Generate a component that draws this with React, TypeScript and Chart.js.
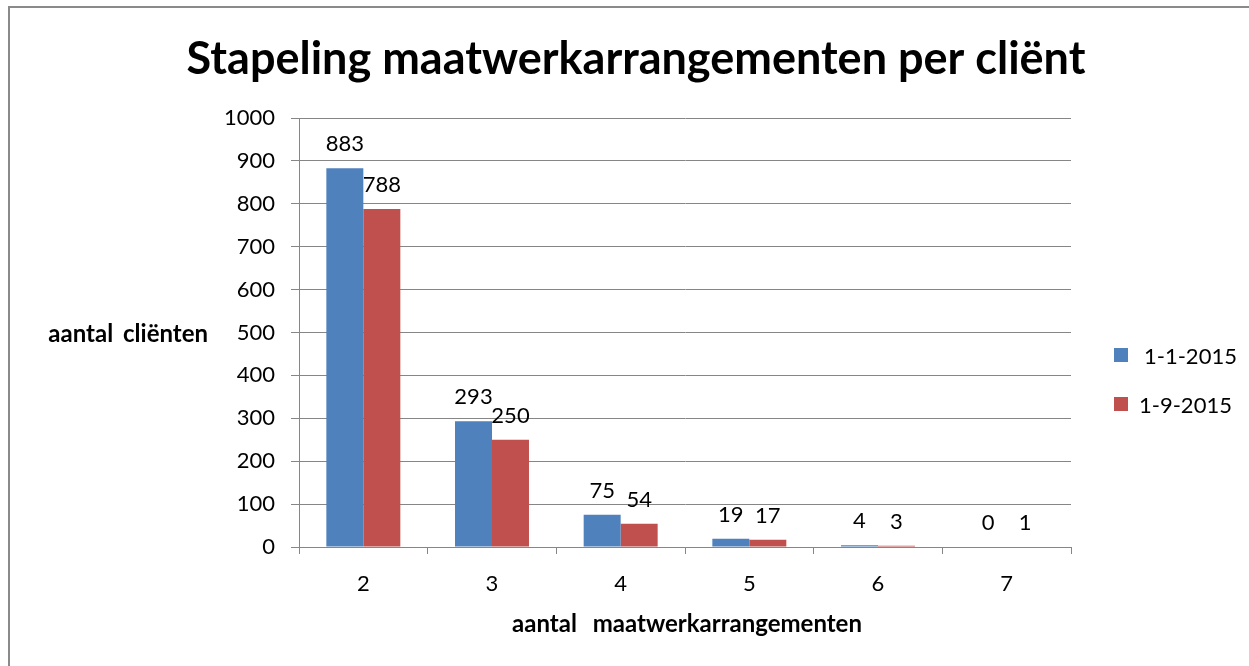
import React, { useEffect, useRef } from "react";
import { Chart, registerables } from "chart.js";

Chart.register(...registerables);

const categories = ["2", "3", "4", "5", "6", "7"];
const series1Label = "1-1-2015";
const series2Label = "1-9-2015";
const series1 = [883, 293, 75, 19, 4, 0];
const series2 = [788, 250, 54, 17, 3, 1];
const titleText = "Stapeling maatwerkarrangementen per cliënt";
const yTitle = "aantal cliënten";
const xTitle = "aantal maatwerkarrangementen";
const blue = "#4F81BD";
const red = "#C0504D";
const gridColor = "#868686";
const FONT = "Lato, 'Open Sans', sans-serif";

const overlay = {
  id: "overlay",
  afterDraw(chart: any) {
    const ctx = chart.ctx as any;
    ctx.save();
    ctx.fillStyle = "#000";
    ctx.textBaseline = "alphabetic";
    // title
    ctx.font = `bold 45px ${FONT}`;
    ctx.textAlign = "center";
    ctx.fillText(titleText, 636, 74);
    // axis titles
    ctx.font = `bold 24px ${FONT}`;
    ctx.wordSpacing = "4px";
    ctx.textAlign = "right";
    ctx.fillText(yTitle, 208, 342);
    ctx.wordSpacing = "10px";
    ctx.textAlign = "center";
    ctx.fillText(xTitle, 687, 632);
    ctx.wordSpacing = "0px";
    // data labels
    ctx.font = `22px ${FONT}`;
    chart.data.datasets.forEach((ds: any, i: number) => {
      const meta = chart.getDatasetMeta(i);
      meta.data.forEach((bar: any, j: number) => {
        ctx.fillText(String(ds.data[j]), bar.x, bar.y - 17);
      });
    });
    // legend
    const items = [
      { label: series1Label, color: blue, y: 355, dx: 5 },
      { label: series2Label, color: red, y: 404, dx: 0 },
    ];
    ctx.textAlign = "left";
    items.forEach((it) => {
      ctx.fillStyle = it.color;
      ctx.fillRect(1114, it.y - 7, 14, 14);
      ctx.fillStyle = "#000";
      ctx.fillText(it.label, 1139 + it.dx, it.y + 9);
    });
    ctx.restore();
  },
};

export default function App() {
  const ref = useRef<HTMLCanvasElement>(null);
  useEffect(() => {
    const chart = new Chart(ref.current!, {
      type: "bar",
      data: {
        labels: categories,
        datasets: [
          { label: series1Label, data: series1, backgroundColor: blue, barPercentage: 1, categoryPercentage: 0.575 },
          { label: series2Label, data: series2, backgroundColor: red, barPercentage: 1, categoryPercentage: 0.575 },
        ],
      },
      options: {
        animation: false,
        responsive: false,
        devicePixelRatio: 1,
        layout: { padding: { top: 118, right: 178, bottom: 0, left: 0 } },
        plugins: { legend: { display: false }, title: { display: false }, tooltip: { enabled: false } },
        scales: {
          x: {
            afterFit: (s: any) => { s.height = 119; },
            grid: { drawOnChartArea: false, drawTicks: true, tickLength: 7, color: gridColor, offset: true },
            border: { color: gridColor, width: 1 },
            ticks: { color: "#000", font: { family: FONT, size: 22 }, padding: 17 },
          },
          y: {
            min: 0,
            max: 1000,
            afterFit: (s: any) => { s.width = 299; },
            grid: { color: gridColor, tickLength: 8, drawTicks: true },
            border: { color: gridColor, width: 1 },
            ticks: {
              stepSize: 100,
              color: "#000",
              font: { family: FONT, size: 22 },
              padding: 16,
              callback: (v: any) => String(v),
            },
          },
        },
      },
      plugins: [overlay],
    });
    return () => chart.destroy();
  }, []);
  return (
    <div>
      <div
        style={{
          position: "absolute",
          left: 8,
          top: 6,
          width: 1241,
          height: 660,
          borderLeft: "2px solid #8a8a8a",
          borderTop: "2px solid #8a8a8a",
          boxSizing: "border-box",
        }}
      />
      <canvas
        ref={ref}
        width={1249}
        height={666}
        style={{ position: "absolute", left: 0, top: 0, display: "block" }}
      />
    </div>
  );
}
